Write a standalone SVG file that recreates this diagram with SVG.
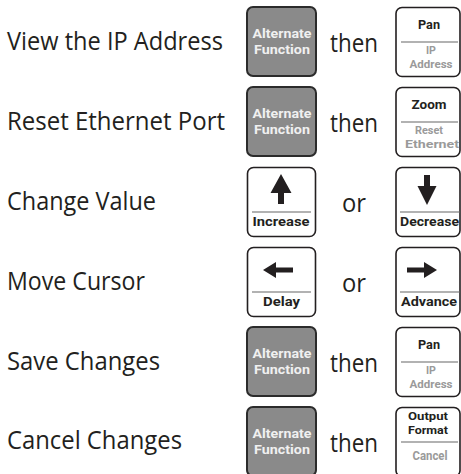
<svg xmlns="http://www.w3.org/2000/svg" width="461" height="474" viewBox="0 0 461 474">
<style>
.lbl{font-family:"Open Sans","Noto Sans",sans-serif;font-size:25px;fill:#231f20}
.alt{fill:#8a8a8a;stroke:#2b2b2b;stroke-width:2}
.key{fill:#fff;stroke:#231f20;stroke-width:1.6}
.kt{font-family:Roboto,"Open Sans",sans-serif;font-size:13.5px;font-weight:bold;text-anchor:middle}
.st{font-size:11.5px}
.w{fill:#f0f0f0}
.b{fill:#231f20}
.g{fill:#9a9a9a}
.div{stroke:#666;stroke-width:1.2}
.arr{fill:#231f20}
</style>
<g id="row1">
<text class="lbl" x="7" y="50" textLength="216" lengthAdjust="spacingAndGlyphs">View the IP Address</text>
<g id="alt1"><rect class="alt" x="247" y="7" width="69" height="69" rx="6"/><text class="kt w" x="282" y="38" textLength="59" lengthAdjust="spacingAndGlyphs">Alternate</text><text class="kt w" x="282" y="54" textLength="56" lengthAdjust="spacingAndGlyphs">Function</text></g>
<text class="lbl" x="330" y="52" textLength="48" lengthAdjust="spacingAndGlyphs">then</text>
<g id="pan1"><rect class="key" x="396" y="7.5" width="64" height="69" rx="6"/><text class="kt b" x="429" y="29" textLength="22" lengthAdjust="spacingAndGlyphs">Pan</text><line class="div" x1="401" y1="42" x2="458" y2="42"/><text class="kt st g" x="431" y="54" textLength="10" lengthAdjust="spacingAndGlyphs">IP</text><text class="kt st g" x="431" y="68" textLength="43" lengthAdjust="spacingAndGlyphs">Address</text></g>
</g>
<g id="row2">
<text class="lbl" x="7" y="130" textLength="218" lengthAdjust="spacingAndGlyphs">Reset Ethernet Port</text>
<g id="alt2"><rect class="alt" x="247" y="87" width="69" height="69" rx="6"/><text class="kt w" x="282" y="118" textLength="59" lengthAdjust="spacingAndGlyphs">Alternate</text><text class="kt w" x="282" y="134" textLength="56" lengthAdjust="spacingAndGlyphs">Function</text></g>
<text class="lbl" x="330" y="132" textLength="48" lengthAdjust="spacingAndGlyphs">then</text>
<g id="zoom"><rect class="key" x="396" y="87.5" width="64" height="69" rx="6"/><text class="kt b" x="429" y="109" textLength="35" lengthAdjust="spacingAndGlyphs">Zoom</text><line class="div" x1="401" y1="122" x2="458" y2="122"/><text class="kt st g" x="429" y="134" textLength="28" lengthAdjust="spacingAndGlyphs">Reset</text><text class="kt st g" x="432" y="148" textLength="54" lengthAdjust="spacingAndGlyphs">Ethernet</text></g>
</g>
<g id="row3">
<text class="lbl" x="7" y="210" textLength="149" lengthAdjust="spacingAndGlyphs">Change Value</text>
<g id="increase"><rect class="key" x="247.5" y="167.5" width="68" height="69" rx="6"/><polygon class="arr" points="281,174 291.5,193 284,193 284,204 278,204 278,193 270.5,193"/><line class="div" x1="252" y1="212" x2="311" y2="212"/><text class="kt b" x="281" y="226" textLength="57" lengthAdjust="spacingAndGlyphs">Increase</text></g>
<text class="lbl" x="342" y="212" textLength="24" lengthAdjust="spacingAndGlyphs">or</text>
<g id="decrease"><rect class="key" x="396" y="167.5" width="64" height="69" rx="6"/><polygon class="arr" points="427,205 417.5,186 424,186 424,175 430,175 430,186 436.5,186"/><line class="div" x1="400" y1="212" x2="460" y2="212"/><text class="kt b" x="429.5" y="226" textLength="59" lengthAdjust="spacingAndGlyphs">Decrease</text></g>
</g>
<g id="row4">
<text class="lbl" x="7" y="290" textLength="138" lengthAdjust="spacingAndGlyphs">Move Cursor</text>
<g id="delay"><rect class="key" x="247.5" y="247.5" width="68" height="69" rx="6"/><polygon class="arr" points="263,270 276,262 276,267.5 293,267.5 293,272.5 276,272.5 276,278"/><line class="div" x1="252" y1="292" x2="311" y2="292"/><text class="kt b" x="281.5" y="306" textLength="37" lengthAdjust="spacingAndGlyphs">Delay</text></g>
<text class="lbl" x="342" y="292" textLength="24" lengthAdjust="spacingAndGlyphs">or</text>
<g id="advance"><rect class="key" x="396" y="247.5" width="64" height="69" rx="6"/><polygon class="arr" points="437,270 424,262 424,267.5 407,267.5 407,272.5 424,272.5 424,278"/><line class="div" x1="400" y1="292" x2="460" y2="292"/><text class="kt b" x="429" y="306" textLength="56" lengthAdjust="spacingAndGlyphs">Advance</text></g>
</g>
<g id="row5">
<text class="lbl" x="7" y="370" textLength="153" lengthAdjust="spacingAndGlyphs">Save Changes</text>
<g id="alt3"><rect class="alt" x="247" y="327" width="69" height="69" rx="6"/><text class="kt w" x="282" y="358" textLength="59" lengthAdjust="spacingAndGlyphs">Alternate</text><text class="kt w" x="282" y="374" textLength="56" lengthAdjust="spacingAndGlyphs">Function</text></g>
<text class="lbl" x="330" y="372" textLength="48" lengthAdjust="spacingAndGlyphs">then</text>
<g id="pan2"><rect class="key" x="396" y="327.5" width="64" height="69" rx="6"/><text class="kt b" x="429" y="349" textLength="22" lengthAdjust="spacingAndGlyphs">Pan</text><line class="div" x1="401" y1="362" x2="458" y2="362"/><text class="kt st g" x="431" y="374" textLength="10" lengthAdjust="spacingAndGlyphs">IP</text><text class="kt st g" x="431" y="388" textLength="43" lengthAdjust="spacingAndGlyphs">Address</text></g>
</g>
<g id="row6">
<text class="lbl" x="7" y="449" textLength="175" lengthAdjust="spacingAndGlyphs">Cancel Changes</text>
<g id="alt4"><rect class="alt" x="247" y="407" width="69" height="69" rx="6"/><text class="kt w" x="282" y="438" textLength="59" lengthAdjust="spacingAndGlyphs">Alternate</text><text class="kt w" x="282" y="454" textLength="56" lengthAdjust="spacingAndGlyphs">Function</text></g>
<text class="lbl" x="330" y="452" textLength="48" lengthAdjust="spacingAndGlyphs">then</text>
<g id="output"><rect class="key" x="396" y="407.5" width="64" height="69" rx="6"/><text class="kt st b" x="428" y="420" textLength="40" lengthAdjust="spacingAndGlyphs">Output</text><text class="kt st b" x="428" y="434" textLength="40" lengthAdjust="spacingAndGlyphs">Format</text><line class="div" x1="401" y1="442" x2="458" y2="442"/><text class="kt g" x="430" y="460" textLength="35" lengthAdjust="spacingAndGlyphs">Cancel</text></g>
</g>
<g id="connectors"/>
</svg>
